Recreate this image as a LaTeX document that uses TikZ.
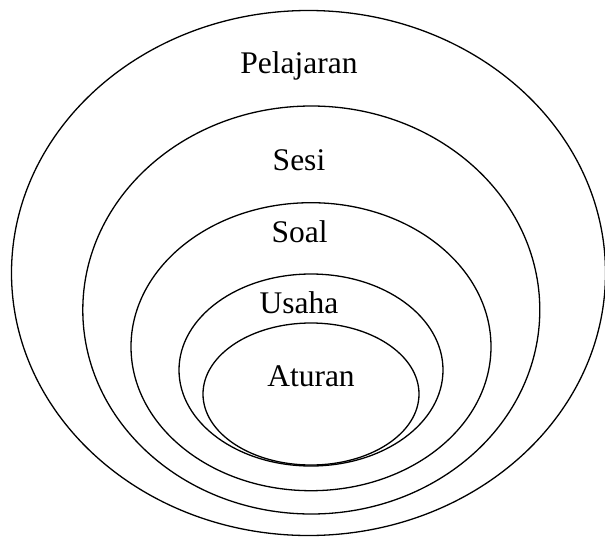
\documentclass[tikz,border=0pt]{standalone}
\usepackage{fontspec}
\setmainfont{Liberation Serif}
\usepackage{tikz}

\begin{document}
\begin{tikzpicture}[
  x=1pt, y=-1pt,
  ring/.style={draw, line width=1.3pt},
  lbl/.style={anchor=base, inner sep=0pt, font=\fontsize{31.5}{36}\selectfont}]
\useasboundingbox (0,0) rectangle (605,536);
% nested levels, outermost first
\draw[ring] (308.5,273) ellipse [x radius=297pt, y radius=262.5pt];
\draw[ring] (311.3,310) ellipse [x radius=228.5pt, y radius=204pt];
\draw[ring] (311,346.7) ellipse [x radius=180pt, y radius=144pt];
\draw[ring] (311,370) ellipse [x radius=132pt, y radius=96pt];
\draw[ring] (311,394) ellipse [x radius=108pt, y radius=71pt];
\node[lbl] (pelajaran) at (299,73.3) {Pelajaran};
\node[lbl] (sesi) at (299,170) {Sesi};
\node[lbl] (soal) at (299.5,242) {Soal};
\node[lbl] (usaha) at (299,313) {Usaha};
\node[lbl] (aturan) at (311,386) {Aturan};
\end{tikzpicture}
\end{document}
